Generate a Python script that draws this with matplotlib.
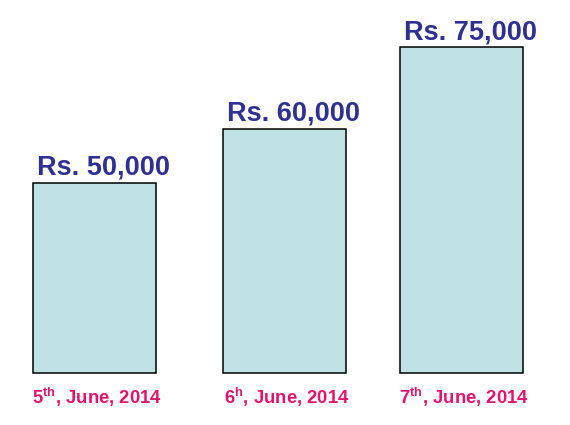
import matplotlib
matplotlib.use('Agg')
import matplotlib.pyplot as plt

# Data
dates = ['5$^{th}$, June, 2014', '6$^{h}$, June, 2014', '7$^{th}$, June, 2014']
amounts = [50000, 60000, 75000]
amount_labels = ['Rs. 50,000', 'Rs. 60,000', 'Rs. 75,000']
base = 15000  # axis does not start at zero

plt.rcParams['font.family'] = ['Liberation Sans', 'DejaVu Sans']
plt.rcParams['mathtext.fontset'] = 'custom'
plt.rcParams['mathtext.rm'] = 'Liberation Sans:bold'
plt.rcParams['mathtext.it'] = 'Liberation Sans:bold'
plt.rcParams['mathtext.bf'] = 'Liberation Sans:bold'

fig = plt.figure(figsize=(5.7, 4.25), dpi=100)
ax = fig.add_axes([2.75 / 570, 50.4 / 425, 550.5 / 570, 374.6 / 425])

x = [0, 1.033, 2]
bw = 0.67
ax.bar(x, [v - base for v in amounts], width=bw, bottom=base, color='#bfe1e4',
       edgecolor='black', linewidth=1.1)
ax.set_xlim(-0.5, 2.5)
ax.set_ylim(base - 300, 83700)
ax.axis('off')

for xi, v, lab in zip(x, amounts, amount_labels):
    ax.annotate(lab, (xi - bw / 2, v), xytext=(3, 1.5), textcoords='offset points',
                ha='left', va='bottom', fontsize=19.5, fontweight='bold', color='#2e3192')

for xi, d in zip(x, dates):
    ax.annotate(d, (xi, base), xytext=(2, -9), textcoords='offset points',
                ha='center', va='top', fontsize=13.3, fontweight='bold', color='#e5126b',
                annotation_clip=False)

fig.savefig('out.png', dpi=100)
